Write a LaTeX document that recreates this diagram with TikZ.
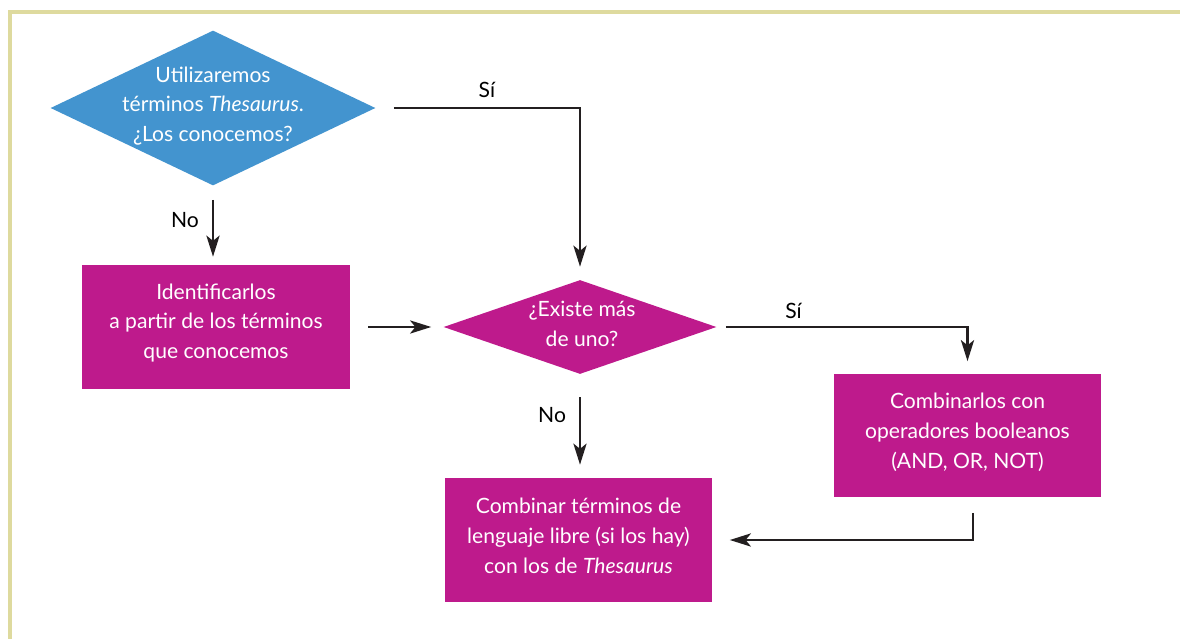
\documentclass[tikz,border=0pt]{standalone}
\usepackage{fontspec}
\setmainfont{Lato}
\usetikzlibrary{arrows.meta,shapes.geometric,calc}
\definecolor{diablue}{HTML}{4394CF}
\definecolor{boxmag}{HTML}{BE1A8C}
\definecolor{framek}{HTML}{DEDA9E}
\definecolor{arrowblack}{HTML}{231F20}
\begin{document}
\begin{tikzpicture}[x=0.02cm,y=-0.02cm,
  every node/.style={font=\fontsize{12}{17}\selectfont},
  dia/.style={diamond,inner sep=0pt,draw=none},
  box/.style={rectangle,fill=boxmag,minimum width=5.36cm,minimum height=2.48cm,inner sep=0pt},
  txt/.style={text=white,align=center,inner sep=0pt},
  conn/.style={line width=1.35pt,draw=arrowblack,-{Stealth[length=12pt,width=7.5pt,inset=3pt]}},
  lbl/.style={text=black}]
\useasboundingbox (0,0) rectangle (1180,639);
\fill[white] (0,0) rectangle (1180,639);
% frame
\draw[framek,line width=0.07cm] (1180,12) -- (10,12) -- (10,639);
% nodes
\node[dia,fill=diablue,minimum width=6.5cm,minimum height=3.1cm] (d1) at (213,108) {};
\node[txt] (d1t) at (213,106) {Utilizaremos\\t\'erminos \textit{Thesaurus}.\\¿Los conocemos?};
\node[box] (b1) at (216,327) {};
\node[txt] (b1t) at (216,323) {Identificarlos\\a partir de los t\'erminos\\que conocemos};
\node[dia,fill=boxmag,minimum width=5.46cm,minimum height=1.88cm] (d2) at (580,327) {};
\node[txt] (d2t) at (582,324) {¿Existe m\'as\\de uno?};
\node[box] (b2) at (967.5,435.5) {};
\node[txt] (b2t) at (967.5,432) {Combinarlos con\\operadores booleanos\\(AND, OR, NOT)};
\node[box] (b3) at (578.5,540) {};
\node[txt] (b3t) at (578.5,536) {Combinar t\'erminos de\\lenguaje libre (si los hay)\\con los de \textit{Thesaurus}};
% connectors
\draw[conn] ($(d1.east)+(18,0)$) -| ($(d2.north)+(0,-13)$)
  node[lbl,pos=0.25,above=2pt] (si1) {S\'i};
\draw[conn] ($(d1.south)+(0,14)$) -- ($(d1.south |- b1.north)+(0,-8)$)
  node[lbl,pos=0.36,left=4pt] (no1) {No};
\draw[conn] ($(b1.east)+(18,0)$) -- ($(d2.west)+(-12,0)$);
\draw[conn] ($(d2.east)+(9,0)$) -| ($(b2.north)+(0,-12)$)
  node[lbl,pos=0.14,above=1pt] (si2) {S\'i};
\draw[conn] ($(d2.south)+(0,23)$) -- ($(d2.south |- b3.north)+(0,-13)$)
  node[lbl,pos=0.26,left=4pt] (no2) {No};
\draw[conn] ($(b2.south)+(5.5,15)$) |- ($(b3.east)+(17,0)$);
\end{tikzpicture}
\end{document}
